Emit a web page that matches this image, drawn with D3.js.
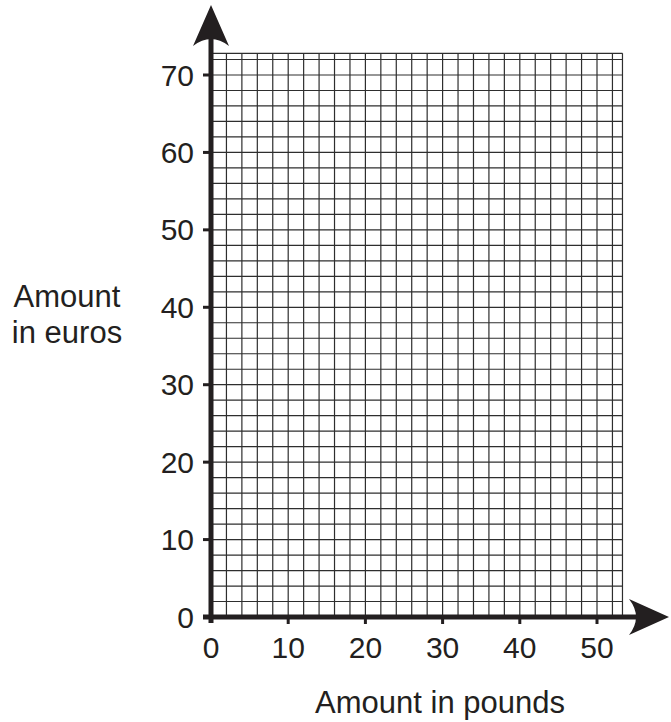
<!DOCTYPE html>
<html>
<head>
<meta charset="utf-8">
<script src="https://cdn.jsdelivr.net/npm/d3@7"></script>
<style>
body { margin: 0; background: #fff; }
text { font-family: "Liberation Sans", Arial, sans-serif; fill: #231f20; }
</style>
</head>
<body>
<div id="wrap"></div>
<script>
// axis data
var xTicks = [0, 10, 20, 30, 40, 50];
var yTicks = [0, 10, 20, 30, 40, 50, 60, 70];
var gridStep = 2;
var xMax = 53.3;
var yMax = 72.8;
var xTitle = "Amount in pounds";
var yTitle = ["Amount", "in euros"];

var width = 671, height = 722;

var svg = d3.select('#wrap').append("svg")
    .attr("width", width)
    .attr("height", height);

var x = d3.scaleLinear().domain([0, 50]).range([211, 597]);
var y = d3.scaleLinear().domain([0, 70]).range([617, 75]);

// grid
var grid = svg.append("g").attr("class", "grid");
var xs = d3.range(gridStep, xMax, gridStep).concat([xMax]);
var ys = d3.range(gridStep, yMax, gridStep).concat([yMax]);

grid.selectAll("line.v")
    .data(xs)
    .enter()
    .append("line")
    .attr("x1", function(d) { return x(d); })
    .attr("x2", function(d) { return x(d); })
    .attr("y1", y(0))
    .attr("y2", y(yMax))
    .attr("stroke", "#2e2e2e")
    .attr("stroke-width", 1.2);

grid.selectAll("line.h")
    .data(ys)
    .enter()
    .append("line")
    .attr("y1", function(d) { return y(d); })
    .attr("y2", function(d) { return y(d); })
    .attr("x1", x(0))
    .attr("x2", x(xMax))
    .attr("stroke", "#2e2e2e")
    .attr("stroke-width", 1.2);

var ink = "#231f20";

// axes lines
svg.append("line")
    .attr("x1", x(0) - 8).attr("x2", 640)
    .attr("y1", y(0)).attr("y2", y(0))
    .attr("stroke", ink).attr("stroke-width", 5);

svg.append("line")
    .attr("x1", x(0)).attr("x2", x(0))
    .attr("y1", y(0) + 6).attr("y2", 30)
    .attr("stroke", ink).attr("stroke-width", 5);

// arrow heads
var yx = x(0), xy = y(0);
svg.append("path")
    .attr("d", "M" + yx + ",5 L" + (yx + 18) + ",46 Q" + yx + ",32 " + (yx - 18) + ",46 Z")
    .attr("fill", ink);
svg.append("path")
    .attr("d", "M669," + xy + " L629," + (xy - 18) + " Q643," + xy + " 629," + (xy + 18) + " Z")
    .attr("fill", ink);

// ticks
svg.selectAll("line.xt")
    .data(xTicks.slice(1))
    .enter()
    .append("line")
    .attr("x1", function(d) { return x(d); })
    .attr("x2", function(d) { return x(d); })
    .attr("y1", y(0))
    .attr("y2", y(0) + 7)
    .attr("stroke", ink).attr("stroke-width", 3);

svg.selectAll("line.yt")
    .data(yTicks.slice(1))
    .enter()
    .append("line")
    .attr("y1", function(d) { return y(d); })
    .attr("y2", function(d) { return y(d); })
    .attr("x1", x(0))
    .attr("x2", x(0) - 8)
    .attr("stroke", ink).attr("stroke-width", 3);

// tick labels
svg.selectAll("text.xl")
    .data(xTicks)
    .enter()
    .append("text")
    .attr("x", function(d) { return x(d); })
    .attr("y", 658)
    .attr("text-anchor", "middle")
    .attr("font-size", 30)
    .text(function(d) { return d; });

svg.selectAll("text.yl")
    .data(yTicks)
    .enter()
    .append("text")
    .attr("x", 194)
    .attr("y", function(d) { return y(d) + 10.5; })
    .attr("text-anchor", "end")
    .attr("font-size", 30)
    .text(function(d) { return d; });

// titles
svg.append("text")
    .attr("x", 440).attr("y", 713)
    .attr("text-anchor", "middle")
    .attr("font-size", 31)
    .text(xTitle);

svg.selectAll("text.yt")
    .data(yTitle)
    .enter()
    .append("text")
    .attr("x", 67)
    .attr("y", function(d, i) { return 307 + i * 36; })
    .attr("text-anchor", "middle")
    .attr("font-size", 31)
    .text(function(d) { return d; });
</script>
</body>
</html>
